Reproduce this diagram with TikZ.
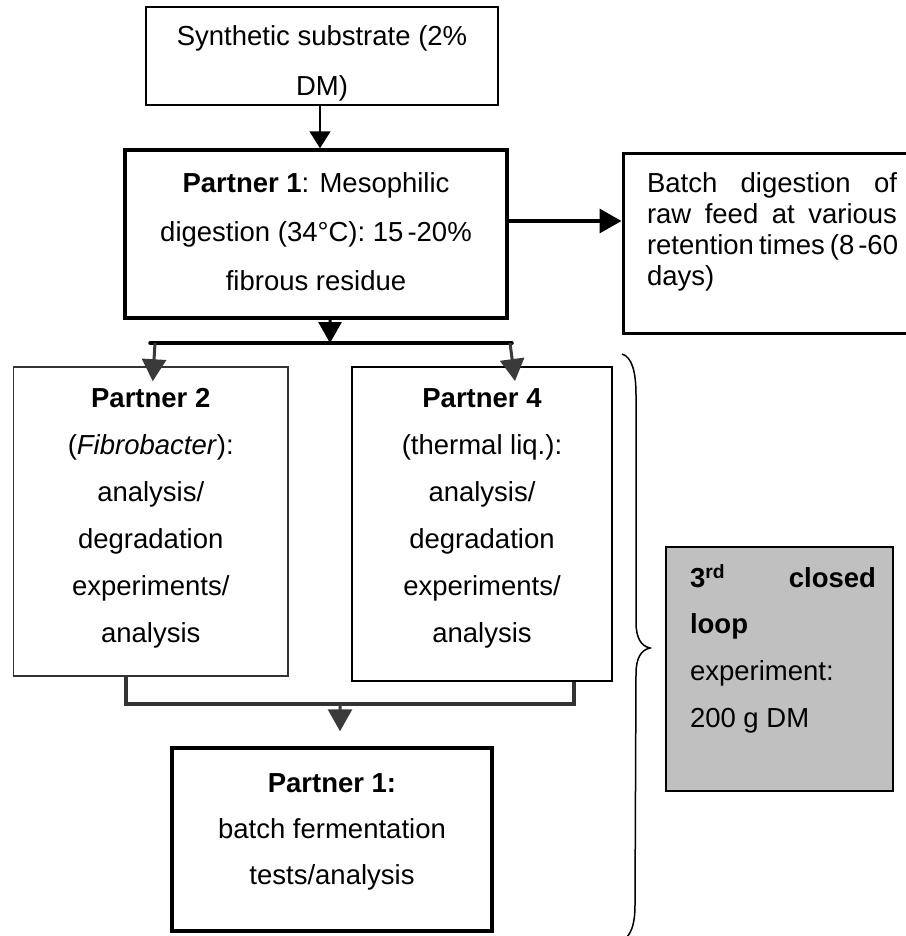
\documentclass[tikz,border=0pt]{standalone}
\usepackage{fontspec}
\setmainfont{Liberation Sans}
\usetikzlibrary{arrows.meta}
% #1 width, #2 height, #3 first baseline from top, #4 baselineskip, #5 content
\newcommand\ctrtxt[5]{\parbox[c][#2][t]{#1}{\fontsize{27.5bp}{#4}\selectfont\centering\rule{0pt}{#3}#5\par}}
% #6 left inset
\newcommand\lefttxt[6]{\parbox[c][#2][t]{#1}{\fontsize{27.5bp}{#4}\selectfont\raggedright\leftskip=#6\relax\noindent\rule{0pt}{#3}#5\par}}
\definecolor{arrgray}{HTML}{3A3A3A}
\definecolor{boxgray}{HTML}{C0C0C0}
\tikzset{
  thinbox/.style={draw=black!85, line width=1.5bp, inner sep=0pt},
  midbox/.style={draw=black, line width=2bp, inner sep=0pt},
  thickbox/.style={draw=black, line width=3.5bp, inner sep=0pt},
  thinarrow/.style={draw=black, line width=1.5bp, -{Triangle[length=17bp,width=21bp]}},
  thickarrow/.style={draw=black, line width=3.5bp, -{Triangle[length=22bp,width=24bp]}},
  downarrow/.style={draw=black, line width=3bp, -{Triangle[length=21bp,width=23bp]}},
  grayarrow/.style={draw=arrgray, fill=arrgray, line width=3bp, -{Triangle[length=22bp,width=24bp]}},
  mergeline/.style={draw=black!80, line width=3.5bp},
  splitline/.style={draw=black, line width=3.5bp, line cap=round},
  bracestyle/.style={draw=black, line width=1.5bp}
}
\begin{document}
\begin{tikzpicture}[x=1bp,y=-1bp]
\useasboundingbox (0,0) rectangle (906,936);

% boxes
\node[thinbox, draw=black] (s1) at (322,56)
  {\ctrtxt{352bp}{98bp}{38bp}{50bp}{Synthetic substrate (2\%\\DM)}};
\node[thickbox] (p1) at (316,234)
  {\ctrtxt{382bp}{168bp}{42bp}{49bp}{\textbf{Partner 1}: Mesophilic\\digestion (34°C): 15\kern4bp-20\%\\fibrous residue}};
\node[thickbox, line width=3bp] (batch) at (765.5,243)
  {\lefttxt{285bp}{180bp}{39bp}{31bp}{%
    \makebox[250bp][s]{Batch digestion of}\\
    \makebox[250bp][s]{raw feed at various}\\
    \makebox[250bp][s]{retention times (8\kern4bp-60}\\
    days)}{24bp}};
\node[thinbox, draw=black!80] (p2) at (150.75,521.5)
  {\ctrtxt{274.5bp}{309bp}{40bp}{47bp}{\textbf{Partner 2}\\(\textit{Fibrobacter}):\\analysis/\\degradation\\experiments/\\analysis}};
\node[midbox] (p4) at (482,524)
  {\ctrtxt{260bp}{314bp}{40bp}{47bp}{\textbf{Partner 4}\\(thermal liq.):\\analysis/\\degradation\\experiments/\\analysis}};
\node[midbox, fill=boxgray] (g) at (779.5,669)
  {\lefttxt{227bp}{244bp}{40bp}{46.7bp}{%
    \makebox[186bp][s]{\textbf{3\textsuperscript{rd} closed}}\\
    \textbf{loop}\\
    experiment:\\
    200 g DM}{24bp}};
\node[thickbox] (f1) at (332,839.5)
  {\ctrtxt{320bp}{183bp}{44bp}{46bp}{\textbf{Partner 1:}\\batch fermentation\\tests/analysis}};

% coordinates of junctions
\coordinate (sp) at (330,343);
\coordinate (jl) at (150,343);
\coordinate (jr) at (512,343);
\coordinate (mj) at (340,704);

% connectors
\draw[thinarrow] ([xshift=-2bp]s1.south) -- ([xshift=-2bp]s1.south |- p1.north);
\draw[thickarrow] ([yshift=13bp]p1.east) -- ([yshift=13bp]p1.east -| batch.west);
\draw[downarrow] ([xshift=14bp]p1.south) -- (sp);
\draw[splitline] (jl) -- (jr);
\draw[grayarrow] ([xshift=5bp]jl) -- ([xshift=2bp,yshift=-15bp]p2.north);
\draw[grayarrow] ([xshift=-2bp]jr) -- ([xshift=33bp,yshift=-15bp]p4.north);
\draw[mergeline] ([xshift=-25bp]p2.south) |- (mj) -| ([xshift=92bp]p4.south);
\draw[grayarrow] (mj) -- ([xshift=8bp,yshift=15bp]f1.north);

% brace
\draw[bracestyle] (622,354) .. controls (632,357) and (636,372) .. (636,395)
  -- (636,622) .. controls (636,638) and (641,646) .. (650,648)
  .. controls (641,650) and (636,658) .. (636,674)
  -- (635,905) .. controls (635,922) and (632,932) .. (626,938);
\end{tikzpicture}
\end{document}
